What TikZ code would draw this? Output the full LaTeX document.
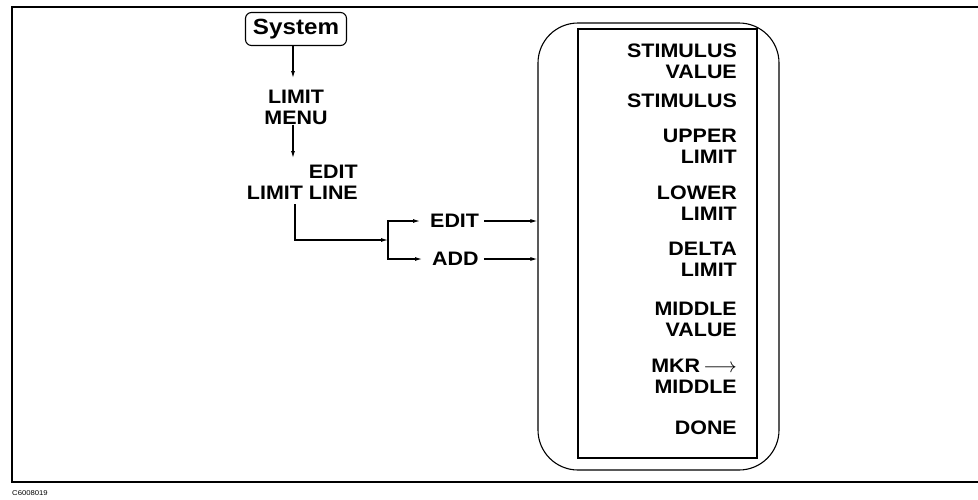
\documentclass[tikz,border=0pt]{standalone}
\usepackage{fontspec}
\setmainfont{Liberation Sans}[FakeStretch=1.1]
\usetikzlibrary{arrows.meta}
\begin{document}
\begin{tikzpicture}[x=1pt,y=-1pt,
  lab/.style={font=\fontsize{19.5}{21}\selectfont\bfseries, inner sep=0pt, align=center},
  itm/.style={font=\fontsize{19.5}{21}\selectfont\bfseries, inner sep=0pt, align=right, anchor=east},
  ln/.style={line width=1.1pt},
  arr/.style={line width=1.1pt, -{Latex[length=7pt,width=4pt]}},
  frame/.style={line width=2pt}]
\useasboundingbox (0,0) rectangle (978,499);
\draw[frame] (978,7) -- (12,7) -- (12,482) -- (978,482);
\node[font=\fontsize{7}{7}\selectfont, anchor=west, inner sep=0pt] (code) at (12,493) {C6008019};

\node[draw, ln, rounded corners=6pt, minimum width=101pt, minimum height=33pt, inner sep=0pt,
  font=\fontsize{22}{22}\selectfont\bfseries] (sys) at (296,29) {System};
\node[lab] (lm) at (296,107) {LIMIT\\MENU};
\node[lab, align=right, anchor=east] (ell) at (358,182) {EDIT\\LIMIT LINE};
\coordinate (ellout) at (295,204);
\coordinate (j) at (388,240);
\node[lab, anchor=west] (edit) at (430,221) {EDIT};
\node[lab, anchor=west] (add) at (432,259) {ADD};

\node[draw, ln, rounded corners=40pt, minimum width=241pt, minimum height=447pt, inner sep=0pt] (menu) at (658.5,246.5) {};
\node[draw, ln, minimum width=179pt, minimum height=429pt, inner sep=0pt] (inner) at (667.5,243.5) {};

\node[itm] (m1) at (737,61) {STIMULUS\\VALUE};
\node[itm] (m2) at (737,101) {STIMULUS};
\node[itm] (m3) at (737,146) {UPPER\\LIMIT};
\node[itm] (m4) at (737,203) {LOWER\\LIMIT};
\node[itm] (m5) at (737,259) {DELTA\\LIMIT};
\node[itm] (m6) at (737,319) {MIDDLE\\VALUE};
\node[itm] (m7) at (737,376) {MKR\,$\longrightarrow$\\MIDDLE};
\node[itm] (m8) at (737,428) {DONE};

\draw[arr] ([xshift=-3pt]sys.south) -- ([xshift=-3pt]sys.south |- 0,78);
\draw[arr] ([xshift=-3pt]lm.south) -- ([xshift=-3pt]lm.south |- 0,158);
\draw[arr] (ellout) |- (j);
\draw[arr, shorten >=10pt] (j) |- (edit.west);
\draw[arr, shorten >=10pt] (j) |- (add.west);
\draw[arr, shorten <=5pt] (edit.east) -- (edit.east -| menu.west);
\draw[arr, shorten <=5pt] (add.east) -- (add.east -| menu.west);
\end{tikzpicture}
\end{document}
